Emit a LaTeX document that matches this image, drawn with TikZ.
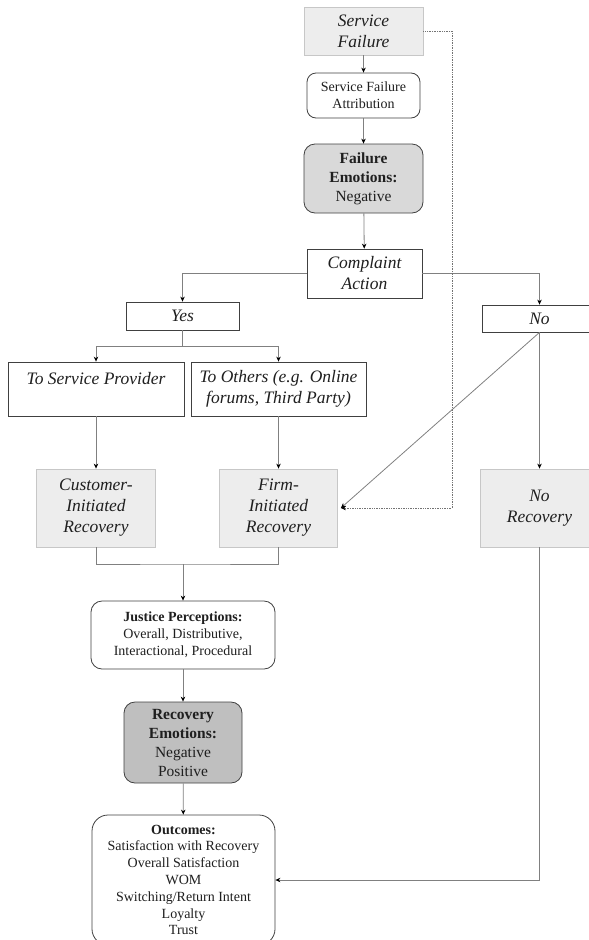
\documentclass[tikz,border=0pt]{standalone}
\usepackage{fontspec}
\setmainfont{Liberation Serif}
\usetikzlibrary{arrows.meta}
\begin{document}
\begin{tikzpicture}[x=1pt,y=-1pt,
  every node/.style={inner sep=0pt, align=center, text=black!88},
  bigtxt/.style={font=\fontsize{17.5}{21}\selectfont\itshape},
  smalltxt/.style={font=\fontsize{14}{16.8}\selectfont},
  emotxt/.style={font=\fontsize{15.5}{19}\selectfont},
  plainbox/.style={draw=black!75, line width=0.8pt, fill=white},
  roundbox/.style={plainbox, rounded corners=9pt},
  shadebox/.style={draw=black!22, fill=black!7, line width=0.8pt},
  conn/.style={draw=black!50, line width=0.8pt, -{Stealth[length=5pt,width=4.5pt,black]}},
  link/.style={draw=black!50, line width=0.8pt},
  dots/.style={draw=black!55, line width=0.7pt, densely dotted, -{Stealth[length=5pt,width=4.5pt,black]}},
]
\useasboundingbox (0,0) rectangle (589,940);
\clip (0,0) rectangle (589,940);

% nodes
\node[shadebox, bigtxt, minimum width=119pt, minimum height=48pt] (sf) at (363.5,31) {Service\\Failure};
\node[roundbox, smalltxt, minimum width=113pt, minimum height=45pt] (sfa) at (363.5,95.5) {Service Failure\\Attribution};
\node[roundbox, emotxt, fill=black!15, minimum width=119pt, minimum height=69pt, rounded corners=11pt] (fe) at (363.5,178.5) {\textbf{Failure}\\\textbf{Emotions:}\\Negative};
\node[plainbox, bigtxt, minimum width=115pt, minimum height=49pt] (ca) at (364.5,273.5) {Complaint\\Action};
\node[plainbox, bigtxt, minimum width=113pt, minimum height=28pt] (yes) at (182.5,316) {Yes};
\node[plainbox, bigtxt, minimum width=115pt, minimum height=27pt] (no) at (539.5,318.5) {No};
\node[plainbox, bigtxt, minimum width=176pt, minimum height=54pt] (tsp) at (96,389) {To Service Provider\\\mbox{}};
\node[plainbox, bigtxt, minimum width=175pt, minimum height=54pt] (tso) at (278.5,389) {To Others (e.g. Online\\forums, Third Party)};
\node[shadebox, bigtxt, minimum width=119pt, minimum height=78pt] (cir) at (96,508) {Customer-\\Initiated\\Recovery};
\node[shadebox, bigtxt, minimum width=118pt, minimum height=78pt] (fir) at (278.5,508) {Firm-\\Initiated\\Recovery};
\node[shadebox, bigtxt, minimum width=118pt, minimum height=78pt] (nr) at (539.5,508) {No\\Recovery};
\node[roundbox, smalltxt, minimum width=184pt, minimum height=68pt, rounded corners=11pt] (jp) at (183,635) {\textbf{Justice Perceptions:}\\Overall, Distributive,\\Interactional, Procedural};
\node[roundbox, emotxt, fill=black!25, minimum width=118pt, minimum height=81pt, rounded corners=11pt] (re) at (183,742.5) {\textbf{Recovery}\\\textbf{Emotions:}\\Negative\\Positive};
\node[roundbox, smalltxt, minimum width=183pt, minimum height=130pt, rounded corners=16pt] (out) at (183.5,880) {\textbf{Outcomes:}\\Satisfaction with Recovery\\Overall Satisfaction\\WOM\\Switching/Return Intent\\Loyalty\\Trust};

% helper coordinates
\coordinate (split) at (182.5,346);
\coordinate (join) at (183,564);
\coordinate (dotc) at (452,31);

% connectors
\draw[conn] (sf) -- (sfa);
\draw[conn] (sfa) -- (fe);
\draw[conn] (fe) -- (ca);
\draw[conn] (ca.west) -| (yes.north);
\draw[conn] (ca.east) -| (no.north);
\draw[link] (yes.south) -- (split);
\draw[conn] (split) -| (tsp.north);
\draw[conn] (split) -| (tso.north);
\draw[conn] (tsp.south) -- (tsp.south |- cir.north);
\draw[conn] (tso.south) -- (fir.north);
\draw[conn] (no.south) -- (nr.north);
\draw[conn] (no.south) -- ([xshift=3pt]fir.east);
\draw[dots] (sf.east) -- (dotc) |- ([xshift=3pt]fir.east);
\draw[link] (cir.south) |- (join) -| (fir.south);
\draw[conn] (join) -- (jp.north);
\draw[conn] (jp) -- (re);
\draw[conn] (re) -- (out);
\draw[conn] (nr.south) |- (out.east);
\end{tikzpicture}
\end{document}
